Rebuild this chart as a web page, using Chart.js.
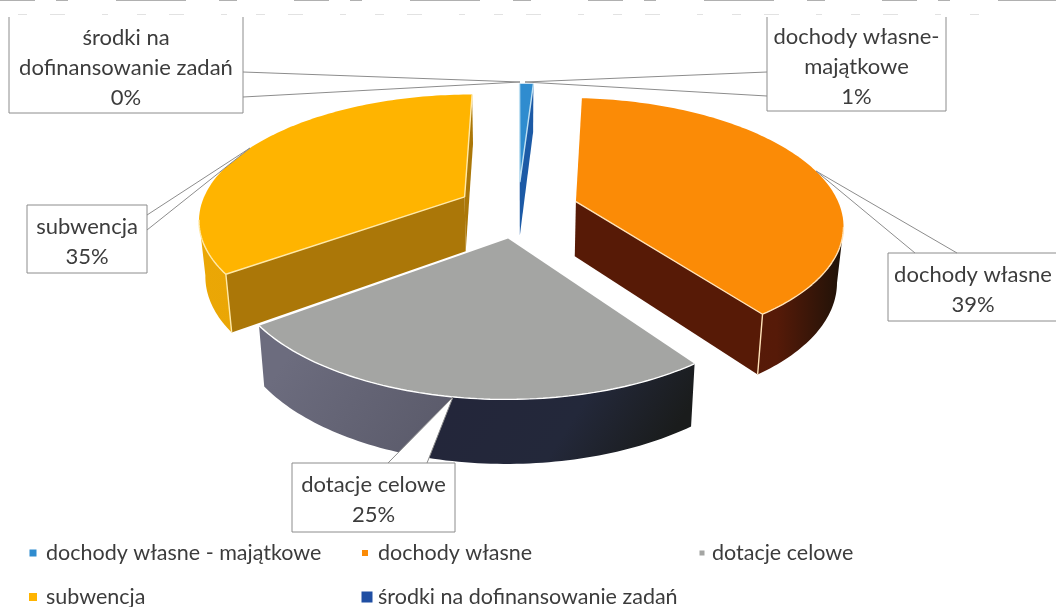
<!DOCTYPE html>
<html lang="pl">
<head>
<meta charset="utf-8">
<title>Struktura dochodów</title>
<style>
  html, body { margin: 0; padding: 0; background: #fff; }
  #wrap { width: 1056px; height: 607px; position: relative; overflow: hidden; }
  canvas { filter: blur(0.45px); }
</style>
<script src="https://cdn.jsdelivr.net/npm/chart.js@4"></script>
</head>
<body>
<div id="wrap"><canvas id="newChart" width="1056" height="607"></canvas></div>
<script>
// chart data
const categories = ['dochody własne - majątkowe', 'dochody własne', 'dotacje celowe', 'subwencja', 'środki na dofinansowanie zadań']
const values = [1, 39, 25, 35, 0]

// slice colours
const topColors = ['#2f8ccf', '#fb8b06', '#a4a5a3', '#ffb400', '#1f4ea3']
const sideColors = ['#1c5aa6', '#571a06', '#5a5b6b', '#ab7708', '#1f4ea3']
const edgeColors = ['#bfe0f2', '#ffe2b8', '#ffffff', '#ffe9a8', '#ffffff']
const rimStops = [
  [[0, '#16629a'], [1, '#1c4fa0']],
  [[0, '#5c1c06'], [0.75, '#561a08'], [1, '#1e1208']],
  [[0, '#6c6c7e'], [0.44, '#5c5c6c'], [0.445, '#23263a'], [0.75, '#23283a'], [1, '#1a1c1c']],
  [[0, '#eba705'], [1, '#e3a008']],
  [[0, '#1f4ea3'], [1, '#1f4ea3']]
]
const rimSlant = [0, 0, 0.65, 0, 0] // lean of the colour change on the rim

// how the flat pie is laid down in perspective
const view = { shiftX: -10, shiftY: -94, tilt: 0.465, persp: 0.166, explode: 0.23, depth: 55, shrink: 0.98 }

// data label boxes, text comes from the arrays above
const labelLines = [['dochody własne-', 'majątkowe'], ['dochody własne'], ['dotacje celowe'], ['subwencja'], ['środki na', 'dofinansowanie zadań']]
const labelBoxes = [
  { x: 767, y: 17, w: 179, h: 94, openTop: true, a: [767, 72], b: [767, 96], tip: [525, 82] },
  { x: 888, y: 253, w: 180, h: 68, a: [915, 253], b: [957, 253], tip: [816, 171] },
  { x: 292, y: 463, w: 163, h: 69, a: [388, 463], b: [427, 463], tip: [453, 397] },
  { x: 27, y: 205, w: 120, h: 68, a: [147, 215], b: [147, 230], tip: [250, 148] },
  { x: 9, y: 17, w: 234, h: 96, openTop: true, a: [243, 72], b: [243, 97], tip: [520, 82] }
]

// legend entries: where the text starts and the marker next to it
const legendSpots = [[46, 553], [378, 553], [712, 553], [46, 597], [378, 597]]
const legendMarks = [[-13, 7], [-13, 6], [-10, 5], [-13, 8], [-11, 11]]

const fontName = 'Lato, "Open Sans", sans-serif'
const textColor = '#3c3c3c'

// Function that project a point of the pie plane to the screen
const project = (arc, px, py, down) => {
  const cx = arc.x + view.shiftX
  const cy = arc.y + view.shiftY
  const w = 1 - view.persp * py
  const r = arc.outerRadius
  let x = px * r / w
  let y = py * r * view.tilt / w
  if (down) {
    x = x * view.shrink
    y = y + view.depth / Math.pow(w, 0.7)
  }
  return [cx + x, cy + y]
}

// Function that get the outline of one slice, apex first and then the rim
const outline = (arc) => {
  const mid = (arc.startAngle + arc.endAngle) / 2
  const ox = Math.cos(mid) * view.explode
  const oy = Math.sin(mid) * view.explode
  const pts = [[ox, oy]]
  const steps = Math.max(2, Math.ceil((arc.endAngle - arc.startAngle) / 0.02))
  for (let i = 0; i <= steps; i++) {
    const a = arc.startAngle + (arc.endAngle - arc.startAngle) * i / steps
    pts.push([ox + Math.cos(a), oy + Math.sin(a)])
  }
  return pts
}

const fillPath = (ctx, pts, fill) => {
  ctx.beginPath()
  pts.forEach((p, i) => i ? ctx.lineTo(p[0], p[1]) : ctx.moveTo(p[0], p[1]))
  ctx.closePath()
  ctx.fillStyle = fill
  ctx.fill()
}

// Function that make the rim colour of one slice
const rimGradient = (ctx, top, i) => {
  const xs = top.map(p => p[0])
  const ys = top.map(p => p[1])
  const x0 = Math.min(...xs)
  const y0 = Math.max(...ys)
  const width = Math.max(...xs) - x0
  const s = rimSlant[i]
  const k = width / (1 + s * s)
  const grad = ctx.createLinearGradient(x0, y0, x0 + k, y0 + k * s)
  rimStops[i].forEach(stop => grad.addColorStop(stop[0], stop[1]))
  return grad
}

// Function that draw one slice: front walls first and the top face over them
const drawSlice = (ctx, arc, i) => {
  const flat = outline(arc)
  const top = flat.map(p => project(arc, p[0], p[1], false))
  const low = flat.map(p => project(arc, p[0], p[1], true))
  const isFront = (k) => top[(k + 1) % top.length][0] < top[k][0]

  // the two cut faces
  const last = top.length - 1
  if (isFront(0)) fillPath(ctx, [top[0], top[1], low[1], low[0]], sideColors[i])
  if (isFront(last)) fillPath(ctx, [top[last], top[0], low[0], low[last]], sideColors[i])

  // the rim, in one piece so no seams show
  const run = []
  for (let k = 1; k < last; k++) {
    if (isFront(k)) {
      if (!run.length) run.push(k)
      run.push(k + 1)
    }
  }
  if (run.length) {
    const rim = [...run.map(k => top[k]), ...run.slice().reverse().map(k => low[k])]
    fillPath(ctx, rim, rimGradient(ctx, top, i))
  }
  fillPath(ctx, top, topColors[i])

  // light edge along the front of the top face
  ctx.strokeStyle = edgeColors[i]
  ctx.lineWidth = 1.4
  ctx.beginPath()
  for (let k = 0; k < top.length; k++) {
    if (!isFront(k)) continue
    const n = (k + 1) % top.length
    ctx.moveTo(top[k][0], top[k][1])
    ctx.lineTo(top[n][0], top[n][1])
  }
  // corner between the cut face and the rim
  const corner = i === 1 ? last : (i === 3 ? 1 : -1)
  if (corner > 0) {
    ctx.moveTo(top[corner][0], top[corner][1])
    ctx.lineTo(low[corner][0], low[corner][1])
  }
  ctx.stroke()
}

// Function that draw the label boxes with their wedge shaped leaders
const drawLabels = (ctx) => {
  const total = values.reduce((sum, v) => sum + v, 0)
  labelBoxes.forEach((box, i) => {
    ctx.fillStyle = '#fff'
    ctx.beginPath()
    ctx.moveTo(box.a[0], box.a[1])
    ctx.lineTo(box.tip[0], box.tip[1])
    ctx.lineTo(box.b[0], box.b[1])
    ctx.closePath()
    ctx.fill()
    ctx.fillRect(box.x, box.y, box.w, box.h)

    ctx.strokeStyle = '#8c8c8c'
    ctx.lineWidth = 1
    ctx.beginPath()
    ctx.moveTo(box.a[0], box.a[1])
    ctx.lineTo(box.tip[0], box.tip[1])
    ctx.lineTo(box.b[0], box.b[1])
    if (box.openTop) {
      ctx.moveTo(box.x, box.y)
      ctx.lineTo(box.x, box.y + box.h)
      ctx.lineTo(box.x + box.w, box.y + box.h)
      ctx.lineTo(box.x + box.w, box.y)
    } else {
      ctx.rect(box.x, box.y, box.w, box.h)
    }
    ctx.stroke()

    const lines = [...labelLines[i], Math.round(values[i] / total * 100) + '%']
    ctx.fillStyle = textColor
    ctx.font = '22px ' + fontName
    ctx.textAlign = 'center'
    ctx.textBaseline = 'middle'
    const midX = Math.min(box.x + box.w / 2, 973)
    const startY = box.y + box.h / 2 - (lines.length - 1) * 15 + 2.5
    lines.forEach((line, l) => ctx.fillText(line, midX, startY + l * 30))
  })
}

// Function that draw the legend in its two rows
const drawLegend = (ctx) => {
  categories.forEach((name, i) => {
    const [x, y] = legendSpots[i]
    const [shift, size] = legendMarks[i]
    ctx.fillStyle = topColors[i]
    ctx.fillRect(x + shift - size / 2, y - size / 2, size, size)
    ctx.fillStyle = textColor
    ctx.font = '21.5px ' + fontName
    ctx.textAlign = 'left'
    ctx.textBaseline = 'middle'
    ctx.fillText(name, x, y)
  })
}

// Function that draw the faint scanner marks along the top of the page
const drawScanMarks = (ctx) => {
  ctx.strokeStyle = '#e2e2e2'
  ctx.lineWidth = 1
  ctx.setLineDash([9, 23, 15, 37, 6, 29])
  ctx.beginPath()
  ctx.moveTo(18, 14.5)
  ctx.lineTo(980, 14.5)
  ctx.stroke()
  ctx.strokeStyle = '#b0b0b0'
  ctx.setLineDash([35, 21, 12, 48, 70, 33, 18, 57])
  ctx.beginPath()
  ctx.moveTo(0, 0.5)
  ctx.lineTo(1056, 0.5)
  ctx.stroke()
  ctx.setLineDash([])
}

// the pie is still laid out by Chart.js, this plugin only lays it down in 3d
const pie3d = {
  id: 'pie3d',
  beforeDatasetsDraw(chart) {
    const ctx = chart.ctx
    const arcs = chart.getDatasetMeta(0).data
    const order = [0, 3, 1, 2] // back to front
    ctx.save()
    drawScanMarks(ctx)
    order.forEach(i => {
      if (values[i] > 0) drawSlice(ctx, arcs[i], i)
    })
    drawLabels(ctx)
    drawLegend(ctx)
    ctx.restore()
    return false
  }
}

// Function that create the chart
const graph = () => {
  const ctx = document.getElementById('newChart').getContext('2d')
  new Chart(ctx, {
    type: 'pie',
    data: {
      labels: categories,
      datasets: [{ data: values, backgroundColor: topColors, radius: 265, borderWidth: 0 }]
    },
    options: {
      responsive: false,
      animation: false,
      plugins: { legend: { display: false }, tooltip: { enabled: false } }
    },
    plugins: [pie3d]
  })
}

graph()
</script>
</body>
</html>
